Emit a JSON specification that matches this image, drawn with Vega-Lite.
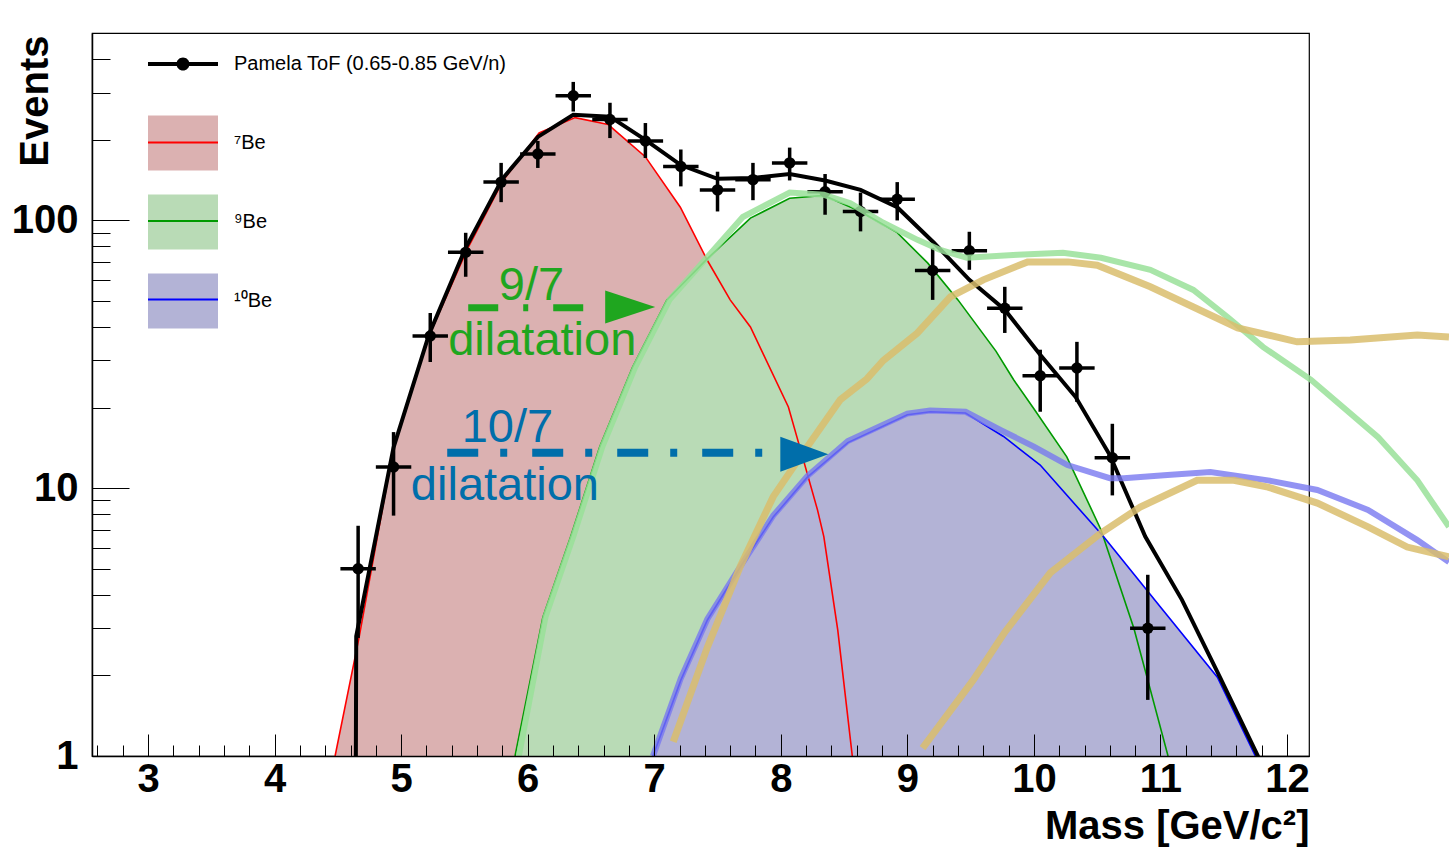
{
"$schema": "https://vega.github.io/schema/vega-lite/v6.json",
"width": 1217, "height": 723,
"autosize": {"type": "none"},
"padding": {"left": 92, "top": 33, "right": 140, "bottom": 91},
"background": "white",
"config": {"view": {"stroke": "black", "strokeWidth": 1.2}, "font": "Liberation Sans", "axis": {"grid": false}},
"datasets": {
"pts": [
{"x":4.66,"y":5.0,"ylo":2.76,"yhi":7.24,"xlo":4.52,"xhi":4.80},
{"x":4.94,"y":12.0,"ylo":7.9,"yhi":16.2,"xlo":4.80,"xhi":5.08},
{"x":5.23,"y":37.0,"ylo":29.6,"yhi":45.1,"xlo":5.09,"xhi":5.37},
{"x":5.51,"y":76,"ylo":61.6,"yhi":89.9,"xlo":5.37,"xhi":5.65},
{"x":5.79,"y":139,"ylo":117,"yhi":164,"xlo":5.65,"xhi":5.93},
{"x":6.08,"y":177,"ylo":157,"yhi":198,"xlo":5.94,"xhi":6.22},
{"x":6.36,"y":292,"ylo":255,"yhi":329,"xlo":6.22,"xhi":6.50},
{"x":6.65,"y":238,"ylo":203,"yhi":275,"xlo":6.51,"xhi":6.79},
{"x":6.93,"y":198,"ylo":171,"yhi":231,"xlo":6.79,"xhi":7.07},
{"x":7.21,"y":159,"ylo":134,"yhi":184,"xlo":7.07,"xhi":7.35},
{"x":7.50,"y":130,"ylo":108,"yhi":152,"xlo":7.36,"xhi":7.64},
{"x":7.78,"y":142,"ylo":119,"yhi":164,"xlo":7.64,"xhi":7.92},
{"x":8.07,"y":164,"ylo":141,"yhi":187,"xlo":7.93,"xhi":8.21},
{"x":8.35,"y":128,"ylo":105,"yhi":149,"xlo":8.21,"xhi":8.49},
{"x":8.63,"y":108,"ylo":91,"yhi":127,"xlo":8.49,"xhi":8.77},
{"x":8.92,"y":120,"ylo":100,"yhi":139,"xlo":8.78,"xhi":9.06},
{"x":9.20,"y":65,"ylo":50.5,"yhi":79,"xlo":9.06,"xhi":9.34},
{"x":9.49,"y":77,"ylo":65.4,"yhi":90.7,"xlo":9.35,"xhi":9.63},
{"x":9.77,"y":47,"ylo":38,"yhi":56.5,"xlo":9.63,"xhi":9.91},
{"x":10.05,"y":26.3,"ylo":19.3,"yhi":32.9,"xlo":9.91,"xhi":10.19},
{"x":10.34,"y":28.1,"ylo":21,"yhi":35.2,"xlo":10.20,"xhi":10.48},
{"x":10.62,"y":13,"ylo":9.4,"yhi":17.4,"xlo":10.48,"xhi":10.76},
{"x":10.90,"y":3.0,"ylo":1.62,"yhi":4.75,"xlo":10.76,"xhi":11.04}
],
"curves": [
{"comp":"7Be","x":4.478,"y":1.0},{"comp":"7Be","x":4.668,"y":2.78},{"comp":"7Be","x":4.937,"y":13.9},{"comp":"7Be","x":5.206,"y":35.8},{"comp":"7Be","x":5.52,"y":77.6},{"comp":"7Be","x":5.806,"y":141},{"comp":"7Be","x":6.09,"y":212},{"comp":"7Be","x":6.375,"y":242},{"comp":"7Be","x":6.636,"y":228},{"comp":"7Be","x":6.929,"y":173},{"comp":"7Be","x":7.206,"y":112},{"comp":"7Be","x":7.419,"y":71},{"comp":"7Be","x":7.60,"y":50.5},{"comp":"7Be","x":7.76,"y":40},{"comp":"7Be","x":8.06,"y":20.1},{"comp":"7Be","x":8.14,"y":14.8},{"comp":"7Be","x":8.29,"y":8.3},{"comp":"7Be","x":8.34,"y":6.6},{"comp":"7Be","x":8.45,"y":2.96},{"comp":"7Be","x":8.565,"y":1.0},
{"comp":"9Be","x":5.90,"y":1.0},{"comp":"9Be","x":6.12,"y":3.3},{"comp":"9Be","x":6.34,"y":6.6},{"comp":"9Be","x":6.57,"y":14.3},{"comp":"9Be","x":6.83,"y":28.4},{"comp":"9Be","x":7.10,"y":50.5},{"comp":"9Be","x":7.42,"y":72},{"comp":"9Be","x":7.76,"y":102},{"comp":"9Be","x":8.07,"y":121},{"comp":"9Be","x":8.34,"y":124},{"comp":"9Be","x":8.63,"y":108},{"comp":"9Be","x":8.92,"y":90},{"comp":"9Be","x":9.16,"y":69.4},{"comp":"9Be","x":9.40,"y":50.5},{"comp":"9Be","x":9.70,"y":32.5},{"comp":"9Be","x":9.84,"y":25.4},{"comp":"9Be","x":10.0,"y":19.8},{"comp":"9Be","x":10.26,"y":13.1},{"comp":"9Be","x":10.53,"y":7.0},{"comp":"9Be","x":10.79,"y":3.0},{"comp":"9Be","x":10.90,"y":1.92},{"comp":"9Be","x":11.06,"y":1.0},
{"comp":"10Be","x":6.99,"y":1.0},{"comp":"10Be","x":7.21,"y":1.92},{"comp":"10Be","x":7.42,"y":3.22},{"comp":"10Be","x":7.68,"y":5.08},{"comp":"10Be","x":7.94,"y":7.8},{"comp":"10Be","x":8.21,"y":11.0},{"comp":"10Be","x":8.53,"y":14.8},{"comp":"10Be","x":9.0,"y":18.8},{"comp":"10Be","x":9.18,"y":19.3},{"comp":"10Be","x":9.46,"y":19.1},{"comp":"10Be","x":9.76,"y":15.6},{"comp":"10Be","x":10.05,"y":12.2},{"comp":"10Be","x":10.55,"y":6.6},{"comp":"10Be","x":11.0,"y":3.6},{"comp":"10Be","x":11.45,"y":1.97},{"comp":"10Be","x":11.75,"y":1.0}
],
"fit": [
{"x":4.64,"y":0.5},{"x":4.645,"y":2.8},{"x":4.94,"y":14.2},{"x":5.22,"y":37.5},{"x":5.51,"y":79},{"x":5.80,"y":143},{"x":6.08,"y":205},{"x":6.36,"y":248},{"x":6.65,"y":244},{"x":6.93,"y":200},{"x":7.21,"y":161},{"x":7.50,"y":143},{"x":7.78,"y":144},{"x":8.07,"y":149},{"x":8.35,"y":141},{"x":8.63,"y":130},{"x":8.92,"y":112},{"x":9.21,"y":82.5},{"x":9.49,"y":60},{"x":9.77,"y":46.4},{"x":10.05,"y":31.5},{"x":10.33,"y":21.9},{"x":10.60,"y":13.3},{"x":10.88,"y":6.6},{"x":11.17,"y":3.83},{"x":11.47,"y":1.97},{"x":11.77,"y":1.0},{"x":11.80,"y":0.9}
],
"over": [
{"name":"lg","x":5.93,"y":1.0},{"name":"lg","x":6.14,"y":3.3},{"name":"lg","x":6.36,"y":6.6},{"name":"lg","x":6.59,"y":14.3},{"name":"lg","x":6.85,"y":28.4},{"name":"lg","x":7.12,"y":50.5},{"name":"lg","x":7.42,"y":73},{"name":"lg","x":7.70,"y":103},{"name":"lg","x":8.07,"y":127},{"name":"lg","x":8.34,"y":124.6},{"name":"lg","x":8.55,"y":116},{"name":"lg","x":8.81,"y":98},{"name":"lg","x":9.08,"y":84.6},{"name":"lg","x":9.26,"y":77.6},{"name":"lg","x":9.47,"y":72.5},{"name":"lg","x":9.87,"y":74.4},{"name":"lg","x":10.23,"y":75.7},{"name":"lg","x":10.53,"y":72.5},{"name":"lg","x":10.92,"y":65.4},{"name":"lg","x":11.26,"y":55},{"name":"lg","x":11.53,"y":43.6},{"name":"lg","x":11.81,"y":33.7},{"name":"lg","x":12.19,"y":25.4},{"name":"lg","x":12.72,"y":15.5},{"name":"lg","x":13.03,"y":10.7},{"name":"lg","x":13.28,"y":7.17},
{"name":"lb","x":6.99,"y":1.0},{"name":"lb","x":7.21,"y":1.95},{"name":"lb","x":7.42,"y":3.25},{"name":"lb","x":7.68,"y":5.1},{"name":"lb","x":7.94,"y":7.9},{"name":"lb","x":8.21,"y":11.1},{"name":"lb","x":8.53,"y":15.0},{"name":"lb","x":9.0,"y":19.0},{"name":"lb","x":9.18,"y":19.5},{"name":"lb","x":9.46,"y":19.3},{"name":"lb","x":9.735,"y":16.5},{"name":"lb","x":10.0,"y":14.3},{"name":"lb","x":10.265,"y":12.2},{"name":"lb","x":10.6,"y":10.9},{"name":"lb","x":10.71,"y":10.9},{"name":"lb","x":11.055,"y":11.2},{"name":"lb","x":11.395,"y":11.5},{"name":"lb","x":11.85,"y":10.7},{"name":"lb","x":12.24,"y":9.85},{"name":"lb","x":12.64,"y":8.3},{"name":"lb","x":13.03,"y":6.4},{"name":"lb","x":13.28,"y":5.3},
{"name":"tanA","x":7.15,"y":1.13},{"name":"tanA","x":7.42,"y":2.55},{"name":"tanA","x":7.68,"y":5.1},{"name":"tanA","x":7.94,"y":9.3},{"name":"tanA","x":8.21,"y":14.3},{"name":"tanA","x":8.47,"y":21.4},{"name":"tanA","x":8.68,"y":25.6},{"name":"tanA","x":8.81,"y":30},{"name":"tanA","x":9.08,"y":38},{"name":"tanA","x":9.34,"y":51.8},{"name":"tanA","x":9.60,"y":60},{"name":"tanA","x":9.95,"y":70},{"name":"tanA","x":10.27,"y":70},{"name":"tanA","x":10.50,"y":68},{"name":"tanA","x":10.92,"y":56.5},{"name":"tanA","x":11.26,"y":47.5},{"name":"tanA","x":11.61,"y":39.7},{"name":"tanA","x":12.08,"y":35.2},{"name":"tanA","x":12.50,"y":35.8},{"name":"tanA","x":13.03,"y":37.3},{"name":"tanA","x":13.28,"y":36.7},
{"name":"tanB","x":9.12,"y":1.07},{"name":"tanB","x":9.52,"y":1.92},{"name":"tanB","x":9.77,"y":2.9},{"name":"tanB","x":10.13,"y":4.83},{"name":"tanB","x":10.53,"y":6.8},{"name":"tanB","x":10.84,"y":8.5},{"name":"tanB","x":11.29,"y":10.7},{"name":"tanB","x":11.58,"y":10.7},{"name":"tanB","x":11.85,"y":10.1},{"name":"tanB","x":12.24,"y":8.8},{"name":"tanB","x":12.64,"y":7.17},{"name":"tanB","x":12.95,"y":6.03},{"name":"tanB","x":13.28,"y":5.54}
],
"arrows": [
{"name":"g","x":5.53,"x2":6.44,"y":47.2},
{"name":"b","x":5.364,"x2":7.854,"y":13.55}
],
"heads": [
{"name":"g","x":6.81,"y":47.5},
{"name":"b","x":8.186,"y":13.4}
],
"notes": [
{"name":"g","x":6.03,"y":50.5,"text":"9/7"},
{"name":"g","x":6.115,"y":31.5,"text":"dilatation"},
{"name":"b","x":5.84,"y":14.9,"text":"10/7"},
{"name":"b","x":5.82,"y":9.04,"text":"dilatation"}
]
},
"layer": [
{"data":{"name":"curves"},"transform":[{"filter":"datum.comp === '7Be'"}],
 "mark":{"type":"area","clip":true},
 "encoding":{
  "x":{"field":"x","type":"quantitative","scale":{"domain":[2.557,12.174],"nice":false,"zero":false},
   "axis":{"orient":"bottom","values":[3,4,5,6,7,8,9,10,11,12],"format":"d","ticks":false,"domain":true,"domainColor":"black","domainWidth":1.5,"grid":false,"labelFont":"Liberation Sans","labelFontWeight":"bold","labelFontSize":40,"labelColor":"black","labelPadding":3,"labelFlush":false,"labelOverlap":false,"labelBound":false,"title":"Mass [GeV/c²]","titleFont":"Liberation Sans","titleFontWeight":"bold","titleFontSize":40,"titleColor":"black","titleAlign":"right","titleX":1217,"titleY":82,"titleBaseline":"alphabetic","zindex":1}},
  "y":{"field":"y","type":"quantitative","stack":null,"scale":{"type":"log","domain":[1,501],"nice":false},
   "axis":{"orient":"left","values":[1,10,100],"format":"d","ticks":false,"domain":true,"domainColor":"black","domainWidth":1.5,"grid":false,"labelFont":"Liberation Sans","labelFontWeight":"bold","labelFontSize":40,"labelColor":"black","labelPadding":14,"labelFlush":false,"labelOverlap":false,"labelBound":false,"title":"Events","titleFont":"Liberation Sans","titleFontWeight":"bold","titleFontSize":40,"titleColor":"black","titleAngle":-90,"titleAlign":"right","titleX":-45,"titleY":2,"titleBaseline":"alphabetic","zindex":1}},
  "y2":{"datum":0.5},
  "fill":{"field":"comp","type":"nominal","scale":{"domain":["Pamela ToF (0.65-0.85 GeV/n)","7Be","9Be","10Be"],"range":["black","#dbb1b1","#b9dbb6","#b3b3d6"]},
   "legend":{"orient":"none","legendX":56,"legendY":-4,"direction":"vertical","title":null,"padding":0,
    "symbolSize":4900,"symbolType":"M-1,-1M1,1M-1,-0.786L1,-0.786L1,0.786L-1,0.786Z","symbolStrokeWidth":0,"symbolOpacity":1,
    "labelFont":"Liberation Sans","labelFontSize":20,"labelColor":"black","labelOffset":16,"labelLimit":0,"rowPadding":9,
    "labelExpr":"datum.label === '7Be' ? '⁷Be' : datum.label === '9Be' ? '⁹Be' : datum.label === '10Be' ? '¹⁰Be' : datum.label",
    "encode":{"symbols":{"update":{
      "shape":{"signal":"datum.value === 'Pamela ToF (0.65-0.85 GeV/n)' ? 'M-1,-1M1,1M-1,-0.055L1,-0.055L1,0.055L-1,0.055ZM-0.186,0A0.186,0.186,0,1,1,0.186,0A0.186,0.186,0,1,1,-0.186,0Z' : 'M-1,-1M1,1M-1,-0.786L1,-0.786L1,0.786L-1,0.786Z'"},
      "stroke":{"value":"transparent"},"opacity":{"value":1},"fillOpacity":{"value":1}}}}}}
 }},
{"data":{"name":"curves"},"transform":[{"filter":"datum.comp === '9Be'"}],
 "mark":{"type":"area","clip":true},
 "encoding":{
  "x":{"field":"x","type":"quantitative","scale":{"domain":[2.557,12.174],"nice":false,"zero":false},
   "axis":{"orient":"bottom","values":[3,4,5,6,7,8,9,10,11,12],"labels":false,"ticks":true,"tickSize":-22,"tickColor":"black","tickWidth":1,"domain":false,"grid":false,"title":null,"zindex":1}},
  "y":{"field":"y","type":"quantitative","stack":null,"scale":{"type":"log","domain":[1,501],"nice":false},
   "axis":{"orient":"left","values":[1,10,100],"labels":false,"ticks":true,"tickSize":-37,"tickColor":"black","tickWidth":1,"domain":false,"grid":false,"title":null,"zindex":1}},
  "y2":{"datum":0.5},
  "fill":{"field":"comp","type":"nominal","scale":{"domain":["Pamela ToF (0.65-0.85 GeV/n)","7Be","9Be","10Be"],"range":["black","#dbb1b1","#b9dbb6","#b3b3d6"]}}
 }},
{"data":{"name":"curves"},"transform":[{"filter":"datum.comp === '10Be'"}],
 "mark":{"type":"area","clip":true},
 "encoding":{
  "x":{"field":"x","type":"quantitative","scale":{"domain":[2.557,12.174],"nice":false,"zero":false},
   "axis":{"orient":"bottom","values":[2.6,2.8,3.2,3.4,3.6,3.8,4.2,4.4,4.6,4.8,5.2,5.4,5.6,5.8,6.2,6.4,6.6,6.8,7.2,7.4,7.6,7.8,8.2,8.4,8.6,8.8,9.2,9.4,9.6,9.8,10.2,10.4,10.6,10.8,11.2,11.4,11.6,11.8],"labels":false,"ticks":true,"tickSize":-11,"tickColor":"black","tickWidth":1,"domain":false,"grid":false,"title":null,"zindex":1}},
  "y":{"field":"y","type":"quantitative","stack":null,"scale":{"type":"log","domain":[1,501],"nice":false},
   "axis":{"orient":"left","values":[2,3,4,5,6,7,8,9,20,30,40,50,60,70,80,90,200,300,400],"labels":false,"ticks":true,"tickSize":-18,"tickColor":"black","tickWidth":1,"domain":false,"grid":false,"title":null,"zindex":1}},
  "y2":{"datum":0.5},
  "fill":{"field":"comp","type":"nominal","scale":{"domain":["Pamela ToF (0.65-0.85 GeV/n)","7Be","9Be","10Be"],"range":["black","#dbb1b1","#b9dbb6","#b3b3d6"]}}
 }},
{"data":{"name":"curves"},"transform":[{"filter":"datum.comp === '7Be'"}],
 "mark":{"type":"line","clip":true,"strokeWidth":1.6},
 "encoding":{
  "x":{"field":"x","type":"quantitative","scale":{"domain":[2.557,12.174],"nice":false,"zero":false},"axis":null},
  "y":{"field":"y","type":"quantitative","scale":{"type":"log","domain":[1,501],"nice":false},"axis":null},
  "stroke":{"field":"comp","type":"nominal","scale":{"domain":["Pamela","7Be","9Be","10Be"],"range":["transparent","#ff0000","#009a00","#0000ff"]},
   "legend":{"orient":"none","legendX":55,"legendY":-5,"direction":"vertical","title":null,"padding":0,
    "symbolSize":4900,"symbolType":"M-1,-1M1,1M-1,0L1,0","symbolStrokeWidth":2,
    "labelExpr":"''","labelFontSize":20,"rowPadding":0.5,
    "encode":{"symbols":{"update":{"fill":{"value":"transparent"},"opacity":{"value":1}}}}}}
 }},
{"data":{"name":"curves"},"transform":[{"filter":"datum.comp === '9Be'"}],
 "mark":{"type":"line","clip":true,"strokeWidth":1.6},
 "encoding":{
  "x":{"field":"x","type":"quantitative","scale":{"domain":[2.557,12.174],"nice":false,"zero":false},"axis":null},
  "y":{"field":"y","type":"quantitative","scale":{"type":"log","domain":[1,501],"nice":false},"axis":null},
  "stroke":{"field":"comp","type":"nominal","scale":{"domain":["Pamela","7Be","9Be","10Be"],"range":["transparent","#ff0000","#009a00","#0000ff"]}}
 }},
{"data":{"name":"curves"},"transform":[{"filter":"datum.comp === '10Be'"}],
 "mark":{"type":"line","clip":true,"strokeWidth":1.6},
 "encoding":{
  "x":{"field":"x","type":"quantitative","scale":{"domain":[2.557,12.174],"nice":false,"zero":false},"axis":null},
  "y":{"field":"y","type":"quantitative","scale":{"type":"log","domain":[1,501],"nice":false},"axis":null},
  "stroke":{"field":"comp","type":"nominal","scale":{"domain":["Pamela","7Be","9Be","10Be"],"range":["transparent","#ff0000","#009a00","#0000ff"]}}
 }},
{"data":{"name":"fit"},
 "mark":{"type":"line","clip":true,"strokeWidth":4,"color":"black"},
 "encoding":{
  "x":{"field":"x","type":"quantitative","scale":{"domain":[2.557,12.174],"nice":false,"zero":false},"axis":null},
  "y":{"field":"y","type":"quantitative","scale":{"type":"log","domain":[1,501],"nice":false},"axis":null}
 }},
{"data":{"name":"pts"},
 "mark":{"type":"rule","clip":true,"strokeWidth":3.5,"color":"black"},
 "encoding":{
  "x":{"field":"xlo","type":"quantitative","scale":{"domain":[2.557,12.174],"nice":false,"zero":false},"axis":null},
  "x2":{"field":"xhi"},
  "y":{"field":"y","type":"quantitative","scale":{"type":"log","domain":[1,501],"nice":false},"axis":null}
 }},
{"data":{"name":"pts"},
 "mark":{"type":"rule","clip":true,"strokeWidth":3.5,"color":"black"},
 "encoding":{
  "x":{"field":"x","type":"quantitative","scale":{"domain":[2.557,12.174],"nice":false,"zero":false},"axis":null},
  "y":{"field":"ylo","type":"quantitative","scale":{"type":"log","domain":[1,501],"nice":false},"axis":null},
  "y2":{"field":"yhi"}
 }},
{"data":{"name":"pts"},
 "mark":{"type":"point","filled":true,"opacity":1,"size":130,"color":"black"},
 "encoding":{
  "x":{"field":"x","type":"quantitative","scale":{"domain":[2.557,12.174],"nice":false,"zero":false},"axis":null},
  "y":{"field":"y","type":"quantitative","scale":{"type":"log","domain":[1,501],"nice":false},"axis":null}
 }},
{"data":{"name":"over"},"transform":[{"filter":"datum.name === 'lg'"}],
 "mark":{"type":"line","clip":false,"strokeWidth":6,"color":"#99e099","opacity":0.85},
 "encoding":{
  "x":{"field":"x","type":"quantitative","scale":{"domain":[2.557,12.174],"nice":false,"zero":false},"axis":null},
  "y":{"field":"y","type":"quantitative","scale":{"type":"log","domain":[1,501],"nice":false},"axis":null}
 }},
{"data":{"name":"over"},"transform":[{"filter":"datum.name === 'lb'"}],
 "mark":{"type":"line","clip":false,"strokeWidth":6,"color":"#7878f0","opacity":0.8},
 "encoding":{
  "x":{"field":"x","type":"quantitative","scale":{"domain":[2.557,12.174],"nice":false,"zero":false},"axis":null},
  "y":{"field":"y","type":"quantitative","scale":{"type":"log","domain":[1,501],"nice":false},"axis":null}
 }},
{"data":{"name":"over"},"transform":[{"filter":"datum.name === 'tanA'"}],
 "mark":{"type":"line","clip":false,"strokeWidth":7,"color":"#d9bd6c","opacity":0.85},
 "encoding":{
  "x":{"field":"x","type":"quantitative","scale":{"domain":[2.557,12.174],"nice":false,"zero":false},"axis":null},
  "y":{"field":"y","type":"quantitative","scale":{"type":"log","domain":[1,501],"nice":false},"axis":null}
 }},
{"data":{"name":"over"},"transform":[{"filter":"datum.name === 'tanB'"}],
 "mark":{"type":"line","clip":false,"strokeWidth":7,"color":"#d9bd6c","opacity":0.85},
 "encoding":{
  "x":{"field":"x","type":"quantitative","scale":{"domain":[2.557,12.174],"nice":false,"zero":false},"axis":null},
  "y":{"field":"y","type":"quantitative","scale":{"type":"log","domain":[1,501],"nice":false},"axis":null}
 }},
{"data":{"name":"arrows"},"transform":[{"filter":"datum.name === 'g'"}],
 "mark":{"type":"rule","strokeWidth":7,"color":"#1fa61f","strokeDash":[30,25,5,25],"strokeCap":"butt"},
 "encoding":{
  "x":{"field":"x","type":"quantitative","scale":{"domain":[2.557,12.174],"nice":false,"zero":false},"axis":null},
  "x2":{"field":"x2"},
  "y":{"field":"y","type":"quantitative","scale":{"type":"log","domain":[1,501],"nice":false},"axis":null}
 }},
{"data":{"name":"arrows"},"transform":[{"filter":"datum.name === 'b'"}],
 "mark":{"type":"rule","strokeWidth":8,"color":"#006eaa","strokeDash":[31,22,7,25],"strokeCap":"butt"},
 "encoding":{
  "x":{"field":"x","type":"quantitative","scale":{"domain":[2.557,12.174],"nice":false,"zero":false},"axis":null},
  "x2":{"field":"x2"},
  "y":{"field":"y","type":"quantitative","scale":{"type":"log","domain":[1,501],"nice":false},"axis":null}
 }},
{"data":{"name":"heads"},"transform":[{"filter":"datum.name === 'g'"}],
 "mark":{"type":"point","filled":true,"opacity":1,"size":2500,"shape":"M-1,-0.66L1,0L-1,0.66Z","color":"#1fa61f"},
 "encoding":{
  "x":{"field":"x","type":"quantitative","scale":{"domain":[2.557,12.174],"nice":false,"zero":false},"axis":null},
  "y":{"field":"y","type":"quantitative","scale":{"type":"log","domain":[1,501],"nice":false},"axis":null}
 }},
{"data":{"name":"heads"},"transform":[{"filter":"datum.name === 'b'"}],
 "mark":{"type":"point","filled":true,"opacity":1,"size":2304,"shape":"M-1,-0.73L1,0L-1,0.73Z","color":"#006eaa"},
 "encoding":{
  "x":{"field":"x","type":"quantitative","scale":{"domain":[2.557,12.174],"nice":false,"zero":false},"axis":null},
  "y":{"field":"y","type":"quantitative","scale":{"type":"log","domain":[1,501],"nice":false},"axis":null}
 }},
{"data":{"name":"notes"},"transform":[{"filter":"datum.name === 'g'"}],
 "mark":{"type":"text","font":"Liberation Sans","fontSize":47,"align":"center","baseline":"alphabetic","color":"#1fa61f"},
 "encoding":{
  "x":{"field":"x","type":"quantitative","scale":{"domain":[2.557,12.174],"nice":false,"zero":false},"axis":null},
  "y":{"field":"y","type":"quantitative","scale":{"type":"log","domain":[1,501],"nice":false},"axis":null},
  "text":{"field":"text"}
 }},
{"data":{"name":"notes"},"transform":[{"filter":"datum.name === 'b'"}],
 "mark":{"type":"text","font":"Liberation Sans","fontSize":47,"align":"center","baseline":"alphabetic","color":"#006eaa"},
 "encoding":{
  "x":{"field":"x","type":"quantitative","scale":{"domain":[2.557,12.174],"nice":false,"zero":false},"axis":null},
  "y":{"field":"y","type":"quantitative","scale":{"type":"log","domain":[1,501],"nice":false},"axis":null},
  "text":{"field":"text"}
 }}
],
"resolve": {"axis": {"x": "independent", "y": "independent"}}
}
